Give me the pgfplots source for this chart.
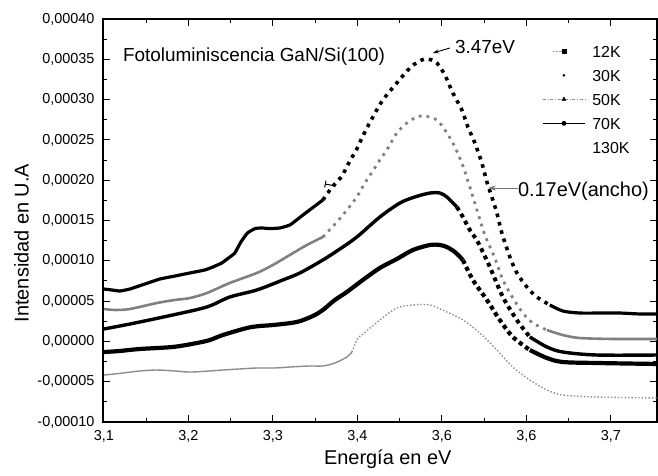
\documentclass[border=0pt]{standalone}
\usepackage{pgfplots}
\pgfplotsset{compat=1.18}
\usepackage{fontspec}
\setmainfont{Liberation Sans}
\usetikzlibrary{arrows.meta}
\begin{document}
\begin{tikzpicture}
\begin{axis}[
 name=ax, scale only axis, width=554bp, height=403bp,
 xmin=3.099, xmax=3.7546, ymin=-0.0001, ymax=0.0004,
 xtick={3.1,3.2,3.3,3.4,3.5,3.6,3.7},
 xticklabels={{3,1},{3,2},{3,3},{3,4},{3,6},{3,6},{3,7}},
 ytick={-0.0001,-0.00005,0,0.00005,0.0001,0.00015,0.0002,0.00025,0.0003,0.00035,0.0004},
 yticklabels={{-0,00010},{-0,00005},{0,00000},{0,00005},{0,00010},{0,00015},{0,00020},{0,00025},{0,00030},{0,00035},{0,00040}},
 minor x tick num=1, minor y tick num=1,
 scaled y ticks=false,
 tick align=inside,
 major tick length=7bp, minor tick length=4bp,
 every tick/.style={black, line width=1bp},
 axis line style={line width=1.1bp},
 ticklabel style={font=\fontsize{14.5}{14.5}\selectfont},
 yticklabel style={xshift=-5bp},
 xticklabel style={yshift=-5bp},
 xlabel={Energía en eV}, ylabel={Intensidad en U.A},
 every axis x label/.style={at={(axis description cs:0.514,-0.092)}, anchor=center, font=\fontsize{20}{20}\selectfont},
 every axis y label/.style={at={(axis description cs:-0.147,0.444)}, anchor=center, rotate=90, font=\fontsize{20}{20}\selectfont},
 legend image code/.code={\draw[mark=none] (0bp,0bp) -- (42bp,0bp); \draw plot coordinates {(21bp,0bp)};},
 legend style={at={(axis description cs:0.793,0.9345)}, anchor=north west, draw=none, fill=none, inner sep=0pt,
   font=\fontsize{16}{16}\selectfont, row sep=12.5bp,
   nodes={inner sep=0pt, text height=11.5bp, text depth=0pt},
   /tikz/every odd column/.append style={column sep=7bp}},
 legend cell align=left,
]
% ---------- 12K ----------
\addplot[forget plot, black, line width=3.2bp, smooth, tension=0.25] coordinates {
(3.1000,6.50e-5)(3.1095,6.38e-5)(3.1189,6.25e-5)(3.1308,6.50e-5)(3.1485,7.12e-5)(3.1663,7.74e-5)
(3.1840,8.11e-5)(3.2018,8.49e-5)(3.2195,8.86e-5)(3.2290,9.23e-5)(3.2396,9.73e-5)(3.2491,10.47e-5)
(3.2550,10.97e-5)(3.2620,12.30e-5)(3.2700,13.45e-5)(3.2790,14.00e-5)(3.2870,14.07e-5)(3.2964,14.00e-5)
(3.3083,14.07e-5)(3.3201,14.44e-5)(3.3296,15.19e-5)(3.3402,16.05e-5)(3.3497,16.80e-5)(3.3592,17.54e-5)};
\addplot[forget plot, black, line width=3.6bp, dash pattern=on 3.6bp off 5bp, smooth] coordinates {
(3.3592,17.54e-5)(3.3675,18.78e-5)(3.3734,19.53e-5)(3.3817,20.52e-5)(3.3911,22.38e-5)(3.3994,23.87e-5)
(3.4065,25.48e-5)(3.4183,27.84e-5)(3.4302,29.95e-5)(3.4467,32.06e-5)(3.4621,33.92e-5)(3.4716,34.67e-5)
(3.4799,35.04e-5)(3.4882,34.91e-5)(3.4941,34.54e-5)(3.5036,33.05e-5)(3.5130,30.82e-5)(3.5237,28.71e-5)
(3.5308,26.60e-5)(3.5391,24.62e-5)(3.5473,22.13e-5)(3.5533,19.78e-5)(3.5592,17.92e-5)(3.5651,15.93e-5)
(3.5710,13.45e-5)(3.5805,10.47e-5)(3.5888,8.49e-5)(3.6006,6.75e-5)(3.6124,5.51e-5)(3.6278,4.52e-5)};
\addplot[forget plot, black, line width=3.2bp, smooth] coordinates {
(3.6278,4.52e-5)(3.6432,3.77e-5)(3.6633,3.52e-5)(3.6870,3.52e-5)(3.7107,3.52e-5)(3.7343,3.40e-5)(3.7544,3.40e-5)};
% ---------- 30K ----------
\addplot[forget plot, black!50, line width=2.6bp, smooth] coordinates {
(3.1000,4.02e-5)(3.1130,3.90e-5)(3.1308,4.02e-5)(3.1627,4.76e-5)(3.1840,5.14e-5)(3.2018,5.38e-5)
(3.2219,6.00e-5)(3.2491,7.25e-5)(3.2811,8.49e-5)(3.3000,9.48e-5)(3.3201,10.72e-5)(3.3402,11.96e-5)(3.3592,12.95e-5)};
\addplot[forget plot, black!50, line width=2.8bp, dash pattern=on 2.8bp off 5bp, smooth] coordinates {
(3.3592,12.95e-5)(3.3757,14.81e-5)(3.3876,16.30e-5)(3.3994,17.92e-5)(3.4089,19.65e-5)(3.4183,21.14e-5)
(3.4266,22.51e-5)(3.4349,23.75e-5)(3.4467,25.86e-5)(3.4586,27.10e-5)(3.4704,27.84e-5)(3.4799,27.97e-5)
(3.4941,27.47e-5)(3.5036,26.23e-5)(3.5130,24.62e-5)(3.5237,22.13e-5)(3.5331,19.16e-5)(3.5426,15.93e-5)
(3.5509,13.20e-5)(3.5627,10.35e-5)(3.5722,7.62e-5)(3.5840,5.39e-5)(3.5959,3.52e-5)(3.6077,2.28e-5)(3.6243,1.41e-5)};
\addplot[forget plot, black!50, line width=2.6bp, smooth] coordinates {
(3.6243,1.41e-5)(3.6432,0.79e-5)(3.6633,0.42e-5)(3.7024,0.30e-5)(3.7544,0.30e-5)};
% ---------- 50K ----------
\addplot[forget plot, black, line width=3.4bp, smooth] coordinates {
(3.1000,1.54e-5)(3.1189,1.91e-5)(3.1426,2.41e-5)(3.1817,3.28e-5)(3.2219,4.27e-5)(3.2491,5.51e-5)
(3.2811,6.38e-5)(3.3118,7.62e-5)(3.3320,8.49e-5)(3.3592,10.10e-5)(3.3793,11.46e-5)(3.3994,12.95e-5)
(3.4266,15.43e-5)(3.4503,17.17e-5)(3.4680,17.92e-5)(3.4858,18.41e-5)(3.4976,18.41e-5)(3.5059,17.92e-5)(3.5178,16.67e-5)};
\addplot[forget plot, black, line width=4bp, dash pattern=on 4bp off 4bp, smooth] coordinates {
(3.5178,16.67e-5)(3.5249,15.43e-5)(3.5331,13.82e-5)(3.5426,12.33e-5)(3.5568,9.23e-5)(3.5722,5.51e-5)
(3.5888,2.65e-5)(3.6041,0.55e-5)};
\addplot[forget plot, black, line width=3.4bp, smooth] coordinates {
(3.6041,0.55e-5)(3.6243,-0.69e-5)(3.6432,-1.32e-5)(3.6834,-1.69e-5)(3.7544,-1.69e-5)};
% ---------- 70K ----------
\addplot[forget plot, black, line width=4.2bp, smooth] coordinates {
(3.1000,-1.32e-5)(3.1189,-1.19e-5)(3.1426,-0.94e-5)(3.1817,-0.69e-5)(3.2101,-0.20e-5)(3.2254,0.17e-5)
(3.2408,0.79e-5)(3.2692,1.66e-5)(3.2846,1.91e-5)(3.3000,2.03e-5)(3.3284,2.41e-5)(3.3473,3.15e-5)
(3.3592,3.90e-5)(3.3734,5.14e-5)(3.3876,6.13e-5)(3.4065,7.62e-5)(3.4266,9.11e-5)(3.4467,10.22e-5)
(3.4657,11.34e-5)(3.4858,11.96e-5)(3.4976,11.96e-5)(3.5059,11.71e-5)(3.5154,11.09e-5)(3.5249,10.10e-5)};
\addplot[forget plot, black, line width=4.2bp, dash pattern=on 4.2bp off 3.5bp, smooth] coordinates {
(3.5249,10.10e-5)(3.5367,7.62e-5)(3.5533,5.14e-5)(3.5686,2.65e-5)(3.5840,0.55e-5)(3.6041,-1.07e-5)};
\addplot[forget plot, black, line width=4.2bp, smooth] coordinates {
(3.6041,-1.07e-5)(3.6243,-2.06e-5)(3.6432,-2.56e-5)(3.6834,-2.68e-5)(3.7544,-2.80e-5)};
% ---------- 130K ----------
\addplot[forget plot, black!45, line width=1.4bp, smooth] coordinates {
(3.1000,-4.17e-5)(3.1130,-4.04e-5)(3.1225,-3.92e-5)(3.1426,-3.67e-5)(3.1627,-3.55e-5)(3.1840,-3.67e-5)
(3.2018,-3.80e-5)(3.2254,-3.67e-5)(3.2408,-3.55e-5)(3.2609,-3.42e-5)(3.2811,-3.30e-5)(3.3024,-3.30e-5)
(3.3201,-3.18e-5)(3.3438,-3.05e-5)(3.3592,-3.05e-5)(3.3734,-2.68e-5)(3.3876,-1.94e-5)(3.3935,-1.32e-5)};
\addplot[forget plot, black!45, line width=1.4bp, dash pattern=on 1.4bp off 2bp, smooth] coordinates {
(3.3935,-1.32e-5)(3.4006,0.42e-5)(3.4053,0.79e-5)(3.4266,2.65e-5)(3.4467,4.14e-5)(3.4657,4.52e-5)
(3.4858,4.52e-5)(3.5059,3.65e-5)(3.5249,2.65e-5)(3.5450,1.04e-5)(3.5651,-1.07e-5)(3.5840,-3.18e-5)
(3.6041,-4.79e-5)(3.6243,-6.03e-5)(3.6432,-6.65e-5)(3.6834,-6.90e-5)(3.7544,-7.02e-5)};
% ---------- legend ----------
\addlegendimage{black!40, densely dotted, mark=square*, mark options={solid,black}, mark size=2bp,
  legend image code/.code={\draw[mark=none] (10bp,0bp) -- (19bp,0bp); \draw plot coordinates {(21bp,0bp)}; \path (0bp,0bp) (42bp,0bp);}}
\addlegendentry{12K}
\addlegendimage{only marks, mark=*, mark options={black}, mark size=1.1bp,
  legend image code/.code={\draw plot coordinates {(21bp,0bp)}; \path (0bp,0bp) (42bp,0bp);}}
\addlegendentry{30K}
\addlegendimage{black!45, dash dot, mark=triangle*, mark options={solid,black}, mark size=2.4bp}
\addlegendentry{50K}
\addlegendimage{black, line width=0.8bp, mark=*, mark options={black}, mark size=2bp}
\addlegendentry{70K}
\addlegendimage{empty legend}
\addlegendentry{130K}
% ---------- annotations ----------
\node[anchor=base west, inner sep=0pt, font=\fontsize{19}{19}\selectfont] at (axis cs:3.1225,3.467e-4) {Fotoluminiscencia GaN/Si(100)};
\node[anchor=base west, inner sep=0pt, font=\fontsize{19}{19}\selectfont] at (axis cs:3.5154,3.566e-4) {3.47eV};
\draw[line width=0.9bp, -{Stealth[length=6bp,width=4bp]}] (axis cs:3.5095,3.640e-4) -- (axis cs:3.4893,3.578e-4);
\node[anchor=base west, inner sep=0pt, font=\fontsize{20}{20}\selectfont] at (axis cs:3.5899,1.792e-4) {0.17eV(ancho)};
\draw[black!55, line width=0.9bp, -{Stealth[length=8bp,width=5bp]}] (axis cs:3.5899,1.903e-4) -- (axis cs:3.5545,1.903e-4);
\draw[line width=1bp, |-] (axis cs:3.3615,1.953e-4) -- (axis cs:3.3746,1.928e-4);
\end{axis}
\pgfresetboundingbox
\path[use as bounding box] (ax.south west) ++(-103bp,-54bp) rectangle ++(658bp,476bp);
\end{tikzpicture}
\end{document}
